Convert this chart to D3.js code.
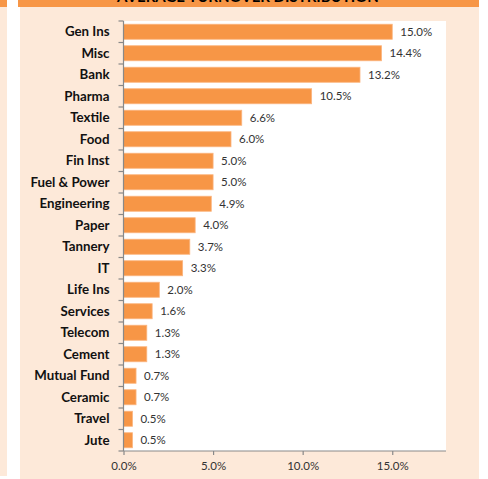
<!DOCTYPE html>
<html>
<head>
<meta charset="utf-8">
<script src="https://cdn.jsdelivr.net/npm/d3@7"></script>
<style>
  body { margin: 0; background: #ffffff; }
  svg { display: block; }
</style>
</head>
<body>
<div id="chart"></div>
<script>
// Average turnover distribution - horizontal bar chart

var categories = ['Gen Ins', 'Misc', 'Bank', 'Pharma', 'Textile', 'Food', 'Fin Inst', 'Fuel & Power',
    'Engineering', 'Paper', 'Tannery', 'IT', 'Life Ins', 'Services', 'Telecom', 'Cement',
    'Mutual Fund', 'Ceramic', 'Travel', 'Jute'];
var shares = [15.0, 14.4, 13.2, 10.5, 6.6, 6.0, 5.0, 5.0, 4.9, 4.0, 3.7, 3.3, 2.0, 1.6, 1.3, 1.3, 0.7, 0.7, 0.5, 0.5];
var xTicks = [0, 5, 10, 15];
var titleText = 'AVERAGE TURNOVER DISTRIBUTION';

const _orange = '#f79646';
const _peach = '#fde9d9';
const _axisGrey = '#898989';
const _font = 'Lato, "Liberation Sans", sans-serif';

var width = 488, height = 479;
var plotLeft = 123.5, plotRight = 446, plotTop = 21, plotBottom = 451;

var svg = d3.select('#chart')
    .append('svg')
    .attr('width', width)
    .attr('height', height);

// background panels
svg.append('rect').attr('x', 0).attr('y', 0).attr('width', 7).attr('height', 7).attr('fill', _orange);
svg.append('rect').attr('x', 0).attr('y', 7).attr('width', 7).attr('height', 469).attr('fill', _peach);
svg.append('rect').attr('x', 18).attr('y', 0).attr('width', 461).attr('height', 7).attr('fill', _orange);
svg.append('rect').attr('x', 20).attr('y', 7).attr('width', 459).attr('height', 472).attr('fill', _peach);

// title, clipped at the top edge as in the source
svg.append('text')
    .attr('x', 248)
    .attr('y', 1.5)
    .attr('text-anchor', 'middle')
    .style('font-family', _font)
    .style('font-weight', 'bold')
    .style('font-size', '15px')
    .attr('fill', '#000')
    .text(titleText);

// plot area
svg.append('rect')
    .attr('x', plotLeft)
    .attr('y', plotTop)
    .attr('width', plotRight - plotLeft)
    .attr('height', plotBottom - plotTop)
    .attr('fill', '#ffffff');

var x = d3.scaleLinear().domain([0, 18]).range([plotLeft, plotRight]);
var y = d3.scaleBand().domain(categories).range([plotTop, plotBottom]).paddingInner(0.3).paddingOuter(0.15);

// bars
svg.append('g')
    .selectAll('rect')
    .data(categories)
    .enter()
    .append('rect')
    .attr('x', x(0))
    .attr('y', function (d) { return y(d); })
    .attr('width', function (d, i) { return x(shares[i]) - x(0); })
    .attr('height', y.bandwidth())
    .attr('fill', _orange)
    .attr('stroke', '#fbb57f')
    .attr('stroke-width', 0.8);

// value labels
svg.append('g')
    .selectAll('text')
    .data(categories)
    .enter()
    .append('text')
    .attr('x', function (d, i) { return x(shares[i]) + 8; })
    .attr('y', function (d) { return y(d) + y.bandwidth() / 2; })
    .attr('dy', '0.35em')
    .style('font-family', _font)
    .style('font-size', '11.5px')
    .attr('fill', '#333333')
    .text(function (d, i) { return shares[i].toFixed(1) + '%'; });

// y axis line with ticks between categories
var yAxisG = svg.append('g');
yAxisG.append('line')
    .attr('x1', plotLeft).attr('x2', plotLeft)
    .attr('y1', plotTop).attr('y2', plotBottom)
    .attr('stroke', _axisGrey).attr('stroke-width', 1.2);
yAxisG.selectAll('line.tick')
    .data(d3.range(categories.length + 1))
    .enter()
    .append('line')
    .attr('class', 'tick')
    .attr('x1', plotLeft - 5).attr('x2', plotLeft)
    .attr('y1', function (i) { return plotTop + i * (plotBottom - plotTop) / categories.length; })
    .attr('y2', function (i) { return plotTop + i * (plotBottom - plotTop) / categories.length; })
    .attr('stroke', _axisGrey).attr('stroke-width', 1.2);

yAxisG.selectAll('text')
    .data(categories)
    .enter()
    .append('text')
    .attr('x', plotLeft - 14)
    .attr('y', function (d) { return y(d) + y.bandwidth() / 2; })
    .attr('dy', '0.35em')
    .attr('text-anchor', 'end')
    .style('font-family', _font)
    .style('font-weight', 'bold')
    .style('font-size', '13.3px')
    .attr('fill', '#111111')
    .text(function (d) { return d; });

// x axis
var xAxis = d3.axisBottom(x)
    .tickValues(xTicks)
    .tickSize(4)
    .tickFormat(function (d) { return d.toFixed(1) + '%'; });

var xAxisG = svg.append('g')
    .attr('transform', 'translate(0,' + plotBottom + ')')
    .call(xAxis);
xAxisG.select('.domain').remove();
xAxisG.append('line')
    .attr('x1', plotLeft).attr('x2', plotRight)
    .attr('y1', 0).attr('y2', 0)
    .attr('stroke', _axisGrey).attr('stroke-width', 1.2);
xAxisG.selectAll('.tick line').attr('stroke', _axisGrey).attr('stroke-width', 1.2);
xAxisG.selectAll('.tick text')
    .attr('y', 11)
    .style('font-family', _font)
    .style('font-size', '11.5px')
    .attr('fill', '#333333');
</script>
</body>
</html>
